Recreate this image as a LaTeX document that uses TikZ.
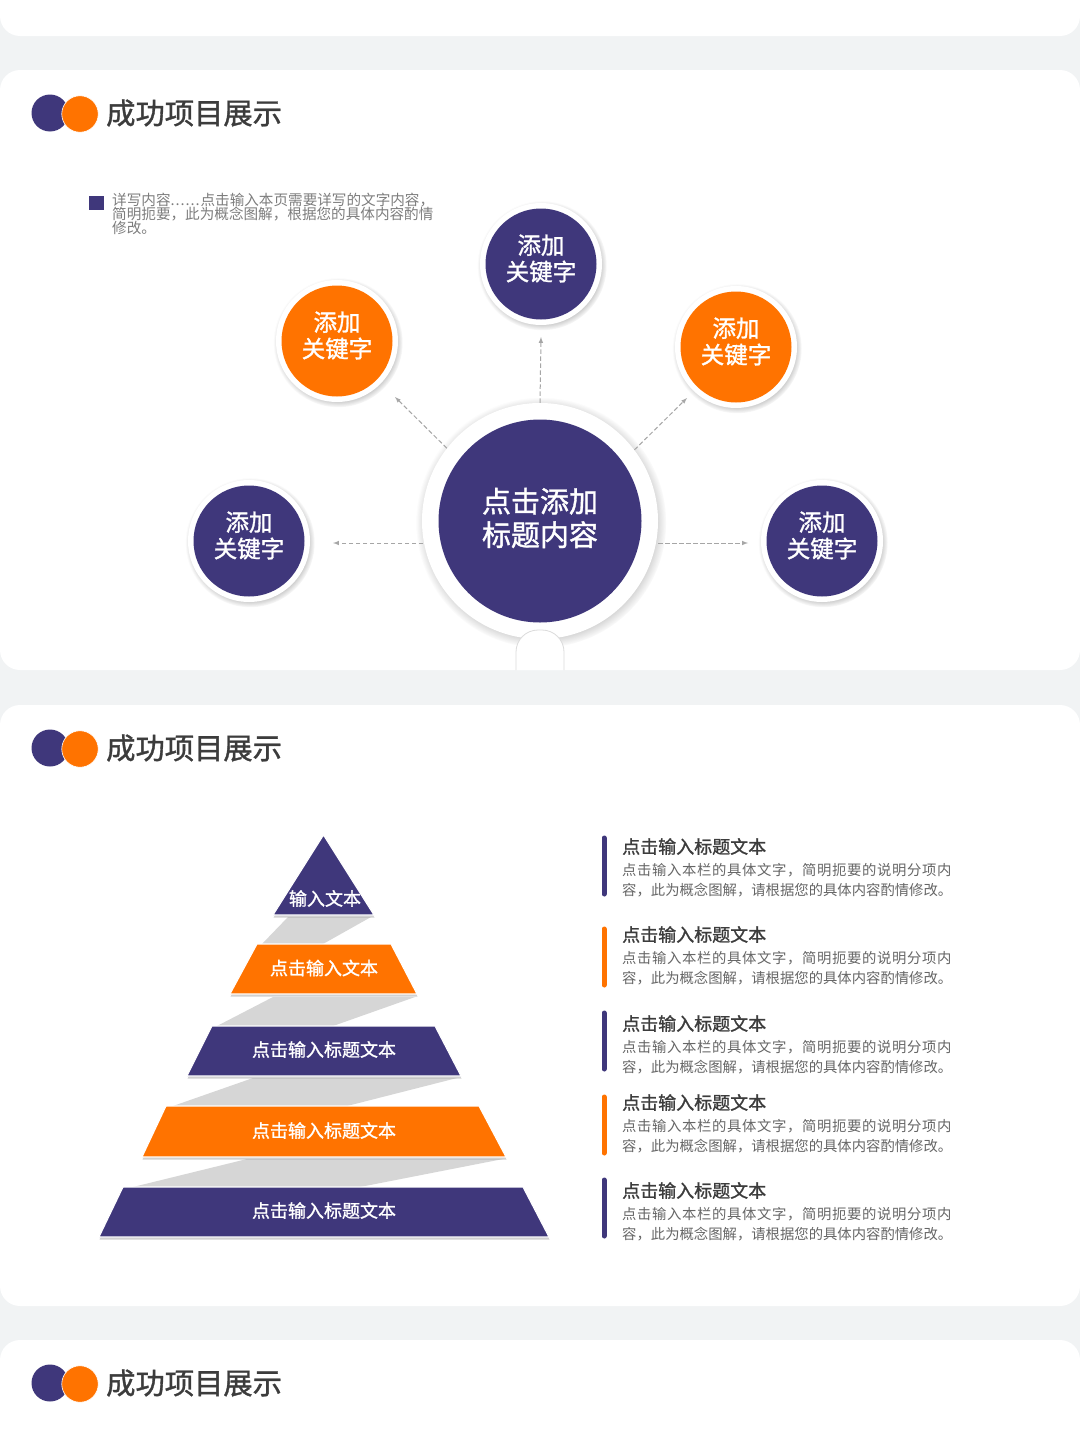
\documentclass[tikz,border=0pt]{standalone}
\usepackage{fontspec}
\setmainfont{Noto Sans CJK SC}
\newfontfamily\cjkmed[FakeBold=1.2]{Noto Sans CJK SC}
\newfontfamily\cjkwide[LetterSpace=4.5]{Noto Sans CJK SC}
\usepackage{tikz}
\usetikzlibrary{positioning}
\usetikzlibrary{arrows}
\usetikzlibrary{shadows}
\definecolor{navyc}{HTML}{3F377B}
\definecolor{orangec}{HTML}{FF7300}
\definecolor{pagec}{HTML}{F1F3F4}
\definecolor{bandc}{HTML}{D6D6D6}
\definecolor{headc}{HTML}{3C3C3C}
\definecolor{bodyc}{HTML}{666666}
\definecolor{flowc}{HTML}{A6A6A6}

\begin{document}
\begin{tikzpicture}[x=1pt,y=-1pt,
  ring/.style={circle,fill=white,inner sep=0pt,circular drop shadow={shadow xshift=1pt,shadow yshift=-1.5pt,shadow scale=1.06,fill=black!70,opacity=.42}},
  dot/.style={circle,inner sep=0pt},
  keyword/.style={text=white,inner sep=0pt,align=center,font=\cjkmed\fontsize{23.5}{26.5}\selectfont},
  flow/.style={flowc,dashed,dash pattern=on 4.5pt off 2.5pt,line width=1pt,-latex},
  tier/.style={draw=white,line width=1.1pt,drop shadow={shadow xshift=.5pt,shadow yshift=-2.5pt,fill=black!40,opacity=.45}},
  tierlabel/.style={text=white,inner sep=0pt,font=\cjkmed\fontsize{18}{20}\selectfont},
  rowhead/.style={text=headc,inner sep=0pt,anchor=west,font=\cjkmed\fontsize{18}{20}\selectfont},
  rowbody/.style={text=bodyc,inner sep=0pt,anchor=north west,align=left,font=\fontsize{14.35}{20}\selectfont}]
\useasboundingbox (0,0) rectangle (1080,1440);
\fill[pagec] (0,0) rectangle (1080,1440);
\fill[white,rounded corners=20pt] (0,-40) rectangle (1080,36);
\fill[white,rounded corners=20pt] (0,70) rectangle (1080,670);
\fill[white,rounded corners=20pt] (0,705) rectangle (1080,1306);
\fill[white,rounded corners=20pt] (0,1340) rectangle (1080,1500);

\foreach \y in {113,748,1383}{
  \node (logoa\y) at (50,\y) [circle,fill=navyc,inner sep=0pt,minimum size=37pt]{};
  \node (logob\y) at (80,\y+1) [circle,fill=orangec,draw=white,line width=.6pt,inner sep=0pt,minimum size=36.5pt]{};
  \node (title\y) at (106,\y) [anchor=west,inner sep=0pt,text=headc,font=\cjkmed\fontsize{29.3}{32}\selectfont]{成功项目展示};
}

\node (bullet) at (96.5,203) [fill=navyc,inner sep=0pt,minimum size=14.5pt]{};
\node (note) at (112,192.5) [anchor=north west,inner sep=0pt,align=left,text=bodyc!85,font=\fontsize{14.6}{14.2}\selectfont]{详写内容\hbox to 30pt{.\hfil.\hfil.\hfil.\hfil.\hfil.\hfil}点击输入本页需要详写的文字内容，\\简明扼要，此为概念图解，根据您的具体内容酌情\\修改。};

\node (hub) at (540,521) [ring,minimum size=236pt]{};
\node (hubdot) at (hub) [dot,fill=navyc,minimum size=203pt]{};
\node (hublabel) at ([yshift=3pt]hub) [keyword,font=\cjkmed\fontsize{29}{33.5}\selectfont]{点击添加\\标题内容};

\draw [fill=white,draw=black!14,line width=.8pt,rounded corners=22pt] (516,670) -- (516,630) -- (564,630) -- (564,670);

\foreach \name/\px/\py/\col in {top/541/264/navyc,nwest/337/341/orangec,neast/736/347/orangec,west/249/541/navyc,east/822/541/navyc}{
  \node (ring\name) at (\px,\py) [ring,minimum size=122pt]{};
  \node (dot\name) at (ring\name) [dot,fill=\col,minimum size=111pt]{};
  \node (label\name) at ([yshift=5.5pt]ring\name) [keyword]{添加\\关键字};
}

\coordinate (tiptop) at (541,337);
\coordinate (tipnwest) at (395,397);
\coordinate (tipneast) at (687,398);
\coordinate (tipwest) at (333,543);
\coordinate (tipeast) at (748,543);
\coordinate (startwest) at (423,543);
\coordinate (starteast) at (658,543);
\draw [flow] (hub.north) -- (tiptop);
\draw [flow] (hub.142.8) -- (tipnwest);
\draw [flow] (hub.37) -- (tipneast);
\draw [flow] (startwest) -- (tipwest);
\draw [flow] (starteast) -- (tipeast);

\fill[bandc] (288,917) -- (371,917) -- (323,944) -- (262,944) -- cycle;
\fill[bandc] (273,997) -- (415,997) -- (333,1026) -- (217,1026) -- cycle;
\fill[bandc] (253,1078) -- (457,1078) -- (347,1106) -- (173,1106) -- cycle;
\fill[bandc] (247,1159) -- (503,1159) -- (360,1187) -- (133,1187) -- cycle;

\draw [tier,fill=navyc] (323.5,835) -- (374,915) -- (273,915) -- cycle;
\draw [tier,fill=orangec] (257,944) -- (391,944) -- (417,994) -- (230,994) -- cycle;
\draw [tier,fill=navyc] (212,1026) -- (435,1026) -- (461,1076) -- (187,1076) -- cycle;
\draw [tier,fill=orangec] (166,1106) -- (479,1106) -- (506,1157) -- (142,1157) -- cycle;
\draw [tier,fill=navyc] (123,1187) -- (523,1187) -- (549,1237) -- (99,1237) -- cycle;

\node (tierlabel1) at (325,898.5) [tierlabel]{输入文本};
\node (tierlabel2) at (324,968) [tierlabel]{点击输入文本};
\node (tierlabel3) at (324,1049.5) [tierlabel]{点击输入标题文本};
\node (tierlabel4) at (324,1130.5) [tierlabel]{点击输入标题文本};
\node (tierlabel5) at (324,1210.5) [tierlabel]{点击输入标题文本};

\foreach \i/\y/\h/\col in {1/836/846.5/navyc,2/927/934.5/orangec,3/1011/1023.5/navyc,4/1095/1102.5/orangec,5/1178/1190.5/navyc}{
  \draw [\col,line width=5pt,line cap=round] (604,\y+2) -- (604,\y+58);
  \node (head\i) at (622,\h) [rowhead]{点击输入标题文本};
  \node (body\i) at (622,\h+16.5) [rowbody]{{\cjkwide 点击输入本栏的具体文字，简明扼要的说明分项内}\\容，此为概念图解，请根据您的具体内容酌情修改。};
}

\end{tikzpicture}
\end{document}
